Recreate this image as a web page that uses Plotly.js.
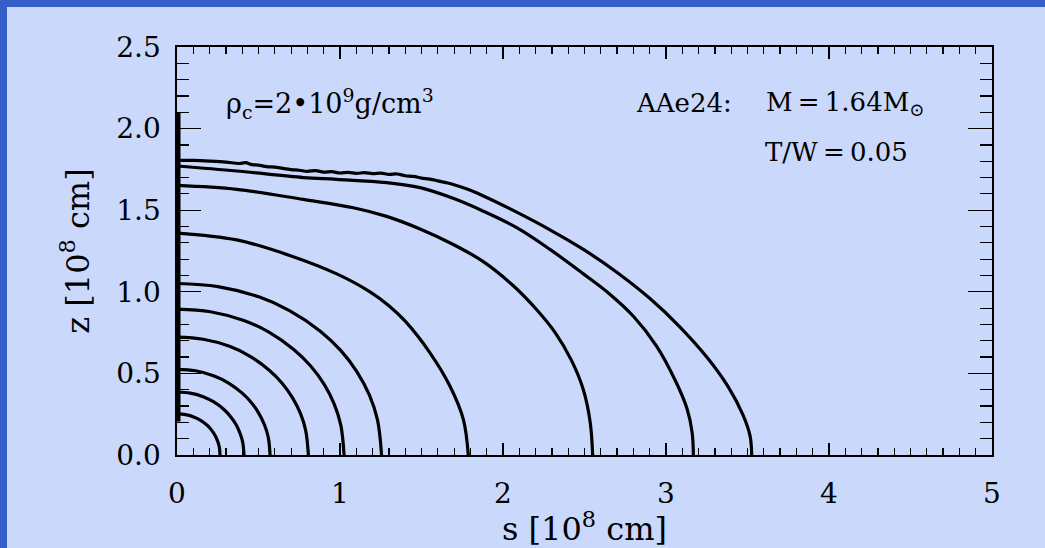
<!DOCTYPE html>
<html>
<head>
<meta charset="utf-8">
<script src="https://cdn.plot.ly/plotly-3.0.1.min.js"></script>
<style>
  html, body { margin: 0; padding: 0; background: #355ec9; width: 1045px; height: 548px; overflow: hidden; }
  #plot { position: absolute; left: 7px; top: 7px; width: 1038px; height: 541px; }
</style>
</head>
<body>
<div id="plot"></div>
<script>
// Density contours (s, z in 10^8 cm)
const sA = [0, 0.053, 0.106, 0.145, 0.185, 0.211, 0.232, 0.248, 0.259, 0.264];
const zA = [0.252, 0.247, 0.232, 0.212, 0.182, 0.154, 0.122, 0.088, 0.052, 0];
const sB = [0, 0.082, 0.164, 0.226, 0.288, 0.329, 0.362, 0.386, 0.403, 0.411];
const zB = [0.386, 0.379, 0.356, 0.325, 0.279, 0.235, 0.187, 0.135, 0.079, 0];
const sC = [0, 0.114, 0.228, 0.314, 0.400, 0.457, 0.502, 0.537, 0.560, 0.571];
const zC = [0.525, 0.516, 0.484, 0.442, 0.379, 0.320, 0.255, 0.184, 0.108, 0];
const sD = [0, 0.161, 0.322, 0.443, 0.564, 0.645, 0.709, 0.758, 0.790, 0.806];
const zD = [0.722, 0.709, 0.666, 0.608, 0.521, 0.440, 0.350, 0.253, 0.148, 0];
const sE = [0, 0.205, 0.410, 0.564, 0.718, 0.820, 0.902, 0.964, 1.005, 1.025];
const zE = [0.894, 0.878, 0.824, 0.753, 0.645, 0.545, 0.434, 0.313, 0.183, 0];
const sF = [0, 0.251, 0.502, 0.690, 0.879, 1.004, 1.104, 1.180, 1.230, 1.255];
const zF = [1.051, 1.032, 0.969, 0.885, 0.759, 0.641, 0.510, 0.368, 0.215, 0];
const sG = [0, 0.366, 0.700, 0.980, 1.184, 1.300, 1.400, 1.552, 1.675, 1.757, 1.787];
const zG = [1.360, 1.318, 1.220, 1.110, 1.000, 0.915, 0.820, 0.626, 0.421, 0.217, 0];
const sH = [0, 0.366, 0.775, 1.082, 1.286, 1.491, 1.695, 1.879, 2.060, 2.207, 2.320, 2.420, 2.493, 2.535, 2.550];
const zH = [1.652, 1.628, 1.566, 1.515, 1.462, 1.385, 1.290, 1.185, 1.040, 0.890, 0.750, 0.580, 0.400, 0.200, 0];
const sI = [0, 0.366, 0.775, 0.980, 1.286, 1.491, 1.690, 1.879, 2.084, 2.288, 2.493, 2.650, 2.800, 2.940, 3.060, 3.130, 3.160, 3.168];
const zI = [1.771, 1.740, 1.700, 1.689, 1.669, 1.638, 1.574, 1.494, 1.393, 1.260, 1.110, 0.990, 0.850, 0.670, 0.450, 0.280, 0.140, 0];
const sJ = [0, 0.10, 0.20, 0.30, 0.38, 0.42, 0.46, 0.50, 0.55, 0.60, 0.65, 0.70, 0.75, 0.80, 0.85, 0.90, 0.95, 1.00, 1.05, 1.10, 1.15, 1.20, 1.25, 1.30, 1.35, 1.40, 1.45, 1.50, 1.55, 1.60, 1.65, 1.70, 1.80, 1.900, 2.084, 2.288, 2.493, 2.698, 2.900, 3.080, 3.250, 3.380, 3.470, 3.515, 3.526];
const zJ = [1.806, 1.805, 1.801, 1.795, 1.786, 1.791, 1.779, 1.776, 1.767, 1.764, 1.756, 1.749, 1.745, 1.738, 1.743, 1.733, 1.736, 1.728, 1.732, 1.726, 1.730, 1.724, 1.727, 1.720, 1.722, 1.711, 1.707, 1.697, 1.690, 1.680, 1.669, 1.656, 1.622, 1.578, 1.488, 1.380, 1.260, 1.120, 0.960, 0.790, 0.600, 0.420, 0.250, 0.120, 0];
// segment of contours lying on the rotation axis
const sAxis = [0, 0];
const zAxis = [0.205, 2.10];

const xTickVals = [0, 1, 2, 3, 4, 5];
const yTickVals = [0.0, 0.5, 1.0, 1.5, 2.0, 2.5];

const contours = [[sA, zA], [sB, zB], [sC, zC], [sD, zD], [sE, zE], [sF, zF], [sG, zG], [sH, zH], [sI, zI], [sJ, zJ]];
const traces = contours.map(([s, z]) => ({
  x: s, y: z, type: 'scatter', mode: 'lines',
  line: {color: 'black', width: 3.2, shape: 'spline', smoothing: 1},
  hoverinfo: 'skip'
}));
traces.push({x: sAxis, y: zAxis, type: 'scatter', mode: 'lines', line: {color: 'black', width: 7}, hoverinfo: 'skip'});

const FONT = 'DejaVu Serif, Liberation Serif, serif';
const axisCommon = {
  showgrid: false, zeroline: false, showline: true, linecolor: 'black', linewidth: 1.6,
  mirror: 'ticks', ticks: 'inside', tickcolor: 'black', tickwidth: 1.4,
  tickfont: {family: FONT, size: 28, color: 'black'}
};

const layout = {
  width: 1038, height: 541,
  margin: {l: 170, r: 53, t: 40, b: 93, pad: 0},
  paper_bgcolor: '#cad9fb', plot_bgcolor: '#cad9fb',
  showlegend: false,
  xaxis: Object.assign({}, axisCommon, {
    range: [0, 5], tickvals: xTickVals, ticktext: xTickVals.map(String), ticklen: 12,
    ticklabelstandoff: 13,
    minor: {dtick: 0.1, ticks: 'inside', ticklen: 7, tickwidth: 1.2, tickcolor: 'black', showgrid: false},
    title: {text: 's [10<sup>8</sup> cm]', font: {family: FONT, size: 32, color: 'black'}, standoff: 9}
  }),
  yaxis: Object.assign({}, axisCommon, {
    range: [0, 2.5], tickvals: yTickVals, ticktext: yTickVals.map(v => v.toFixed(1)), ticklen: 24,
    ticklabelstandoff: 9,
    minor: {dtick: 0.1, ticks: 'inside', ticklen: 12, tickwidth: 1.2, tickcolor: 'black', showgrid: false},
    title: {text: 'z [10<sup>8</sup> cm]', font: {family: FONT, size: 32, color: 'black'}, standoff: 17}
  }),
  annotations: [
    {xref: 'paper', yref: 'paper', x: 0.0577, y: 0.862, xanchor: 'left', yanchor: 'middle', showarrow: false,
     text: 'ρ<sub>c</sub>=2•10<sup>9</sup>g/cm<sup>3</sup>', font: {family: FONT, size: 27, color: 'black'}},
    {xref: 'paper', yref: 'paper', x: 0.561, y: 0.862, xanchor: 'left', yanchor: 'middle', showarrow: false,
     text: 'AAe24:', font: {family: FONT, size: 26, color: 'black'}},
    {xref: 'paper', yref: 'paper', x: 0.720, y: 0.862, xanchor: 'left', yanchor: 'middle', showarrow: false,
     text: 'M\u2009=\u20091.64M<sub>⊙</sub>', font: {family: FONT, size: 26, color: 'black'}},
    {xref: 'paper', yref: 'paper', x: 0.7186, y: 0.742, xanchor: 'left', yanchor: 'middle', showarrow: false,
     text: 'T/W\u2009=\u20090.05', font: {family: FONT, size: 26, color: 'black'}}
  ]
};

Plotly.newPlot('plot', traces, layout, {staticPlot: true, displayModeBar: false});
</script>
</body>
</html>
